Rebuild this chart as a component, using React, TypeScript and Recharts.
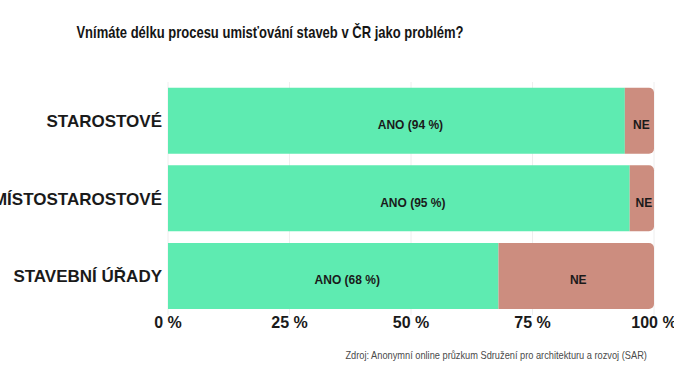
import React from 'react';
import { BarChart, Bar, XAxis, YAxis, CartesianGrid, LabelList } from 'recharts';

const GROUPS = ['STAROSTOVÉ', 'MÍSTOSTAROSTOVÉ', 'STAVEBNÍ ÚŘADY'];
const YES = [94, 95, 68];
const NO = [6, 5, 32];
const TICKS = [0, 25, 50, 75, 100];

const GREEN = '#5eebb1';
const RED = '#cc8d7f';

const data = GROUPS.map((name, i) => ({ name, ano: YES[i], ne: NO[i] }));

const BarLabel = (props: any) => {
  const { x, y, width, height, value, text, dx = 0 } = props;
  return (
    <text
      x={Number(x) + Number(width) / 2 + dx}
      y={Number(y) + Number(height) / 2 + 5}
      textAnchor="middle"
      dominantBaseline="middle"
      fontSize={12}
      fontWeight="bold"
      fill="#1a1a1a"
      fontFamily="'Liberation Sans', Arial, sans-serif"
    >
      {text ? text(value) : value}
    </text>
  );
};

const App: React.FC = () => {
  return (
    <div style={{ position: 'absolute', left: 0, top: 0, width: 674, height: 380, background: '#fff', fontFamily: "'Liberation Sans', Arial, sans-serif" }}>
      <div
        style={{
          position: 'absolute',
          top: 23,
          left: 0,
          width: 540,
          textAlign: 'center',
          fontWeight: 'bold',
          fontSize: 17,
          color: '#151515',
          whiteSpace: 'nowrap',
          transform: 'scaleX(0.765)',
          transformOrigin: '50% 50%',
        }}
      >
        Vnímáte délku procesu umisťování staveb v ČR jako problém?
      </div>
      <BarChart
        width={674}
        height={380}
        data={data}
        layout="vertical"
        margin={{ top: 82, right: 20, bottom: 35, left: 0 }}
        barCategoryGap="7.3%"
      >
        <CartesianGrid horizontal={false} stroke="#eeeeee" />
        <XAxis
          type="number"
          domain={[0, 100]}
          ticks={TICKS}
          tickFormatter={(v: number) => `${v} %`}
          axisLine={false}
          tickLine={false}
          tickSize={2}
          tickMargin={0}
          height={30}
          interval={0}
          tick={{ fontSize: 16, fontWeight: 'bold', fill: '#1a1a1a' }}
        />
        <YAxis
          type="category"
          dataKey="name"
          width={168}
          axisLine={false}
          tickLine={false}
          tickSize={6}
          tickMargin={0}
          tick={{ fontSize: 17, fontWeight: 'bold', fill: '#1a1a1a' }}
        />
        <Bar dataKey="ano" stackId="a" fill={GREEN} isAnimationActive={false}>
          <LabelList dataKey="ano" content={(p: any) => <BarLabel {...p} dx={14} text={(v: number) => `ANO (${v} %)`} />} />
        </Bar>
        <Bar dataKey="ne" stackId="a" fill={RED} radius={[0, 5, 5, 0]} isAnimationActive={false}>
          <LabelList dataKey="ne" content={(p: any) => <BarLabel {...p} dx={2} text={() => 'NE'} />} />
        </Bar>
      </BarChart>
      <div
        style={{
          position: 'absolute',
          top: 349,
          right: 27,
          fontSize: 11,
          color: '#4a4a4a',
          whiteSpace: 'nowrap',
          transform: 'scaleX(0.84)',
          transformOrigin: '100% 50%',
        }}
      >
        Zdroj: Anonymní online průzkum Sdružení pro architekturu a rozvoj (SAR)
      </div>
    </div>
  );
};

export default App;
